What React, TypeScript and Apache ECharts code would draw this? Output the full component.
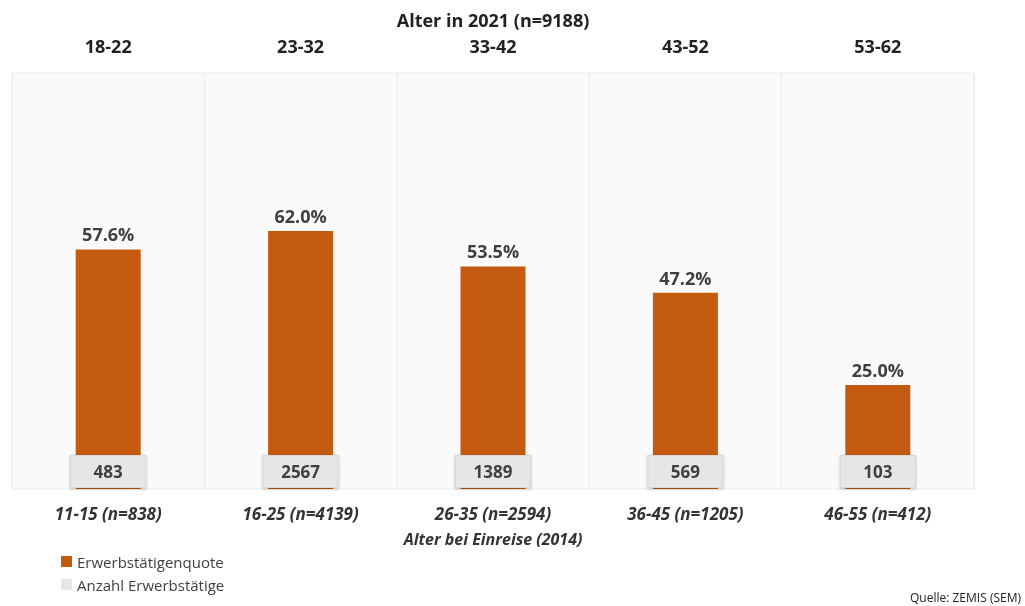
import React, { useEffect, useRef } from "react";
import * as echarts from "echarts";

const entryAges = ["11-15 (n=838)", "16-25 (n=4139)", "26-35 (n=2594)", "36-45 (n=1205)", "46-55 (n=412)"];
const ages2021 = ["18-22", "23-32", "33-42", "43-52", "53-62"];
const quota = [57.6, 62.0, 53.5, 47.2, 25.0];
const counts = [483, 2567, 1389, 569, 103];

const FONT = "'Open Sans', 'Noto Sans', sans-serif";
const ORANGE = "#c55a11";
const GRAY = "#e6e6e6";

export default function App() {
  const ref = useRef<HTMLDivElement>(null);
  useEffect(() => {
    if (!ref.current) return;
    const chart = echarts.init(ref.current, null, { renderer: "svg" });
    chart.setOption({
      animation: false,
      textStyle: { fontFamily: FONT },
      grid: {
        left: 12,
        right: 51,
        top: 73,
        bottom: 117,
        show: true,
        backgroundColor: "#fafafa",
        borderColor: "#ececec",
        borderWidth: 1,
      },
      legend: {
        orient: "vertical",
        left: 56,
        top: 549,
        itemWidth: 11,
        itemHeight: 11,
        itemGap: 8,
        icon: "rect",
        textStyle: { fontFamily: FONT, fontSize: 15, color: "#404040" },
        data: [
          { name: "Erwerbstätigenquote", itemStyle: { color: ORANGE } },
          { name: "Anzahl Erwerbstätige", itemStyle: { color: GRAY } },
        ],
      },
      graphic: [
        {
          type: "text",
          right: 4,
          top: 591,
          style: { text: "Quelle: ZEMIS (SEM)", fontFamily: FONT, fontSize: 12, fill: "#222" },
        },
      ],
      xAxis: [
        {
          type: "category",
          data: entryAges,
          position: "bottom",
          axisLine: { show: false },
          axisTick: { show: false },
          splitLine: { show: true, lineStyle: { color: "#ececec" } },
          axisLabel: {
            margin: 16,
            fontFamily: FONT,
            fontSize: 17,
            fontStyle: "italic",
            fontWeight: "bold",
            color: "#333",
          },
          name: "Alter bei Einreise (2014)",
          nameLocation: "middle",
          nameGap: 42,
          nameTextStyle: {
            fontFamily: FONT,
            fontSize: 16,
            fontStyle: "italic",
            fontWeight: "bold",
            color: "#333",
          },
        },
        {
          type: "category",
          data: ages2021,
          position: "top",
          axisLine: { show: false },
          axisTick: { show: false },
          axisLabel: {
            margin: 18,
            fontFamily: FONT,
            fontSize: 18,
            fontWeight: "bold",
            color: "#222",
          },
          name: "Alter in 2021 (n=9188)",
          nameLocation: "middle",
          nameGap: 44,
          nameTextStyle: {
            fontFamily: FONT,
            fontSize: 18,
            fontWeight: "bold",
            color: "#222",
          },
        },
      ],
      yAxis: [
        { type: "value", min: 0, max: 100, show: false },
        { type: "value", min: 0, max: 100000000, show: false },
      ],
      series: [
        {
          name: "Erwerbstätigenquote",
          type: "bar",
          data: quota,
          barWidth: 65,
          barGap: "-100%",
          itemStyle: { color: ORANGE },
          label: {
            show: true,
            position: "top",
            distance: 6,
            formatter: (p: any) => p.value.toFixed(1) + "%",
            fontFamily: FONT,
            fontSize: 18,
            fontWeight: "bold",
            color: "#404040",
          },
        },
        {
          name: "Anzahl Erwerbstätige",
          type: "bar",
          yAxisIndex: 1,
          data: counts,
          barWidth: 65,
          barGap: "-100%",
          itemStyle: { color: "rgba(0,0,0,0)" },
          label: {
            show: true,
            position: "insideBottom",
            distance: 2,
            formatter: (p: any) => String(p.value),
            fontFamily: FONT,
            fontSize: 17,
            fontWeight: "bold",
            color: "#404040",
            backgroundColor: GRAY,
            borderColor: "#d8d8d8",
            borderWidth: 1,
            width: 60,
            height: 19,
            lineHeight: 19,
            align: "center",
            padding: [6, 7],
            shadowBlur: 3,
            shadowColor: "rgba(0,0,0,0.25)",
            shadowOffsetY: 1,
          },
        },
      ],
    });
    return () => chart.dispose();
  }, []);
  return (
    <div
      ref={ref}
      style={{ position: "fixed", left: 0, top: 0, width: 1025, height: 606 }}
    />
  );
}
